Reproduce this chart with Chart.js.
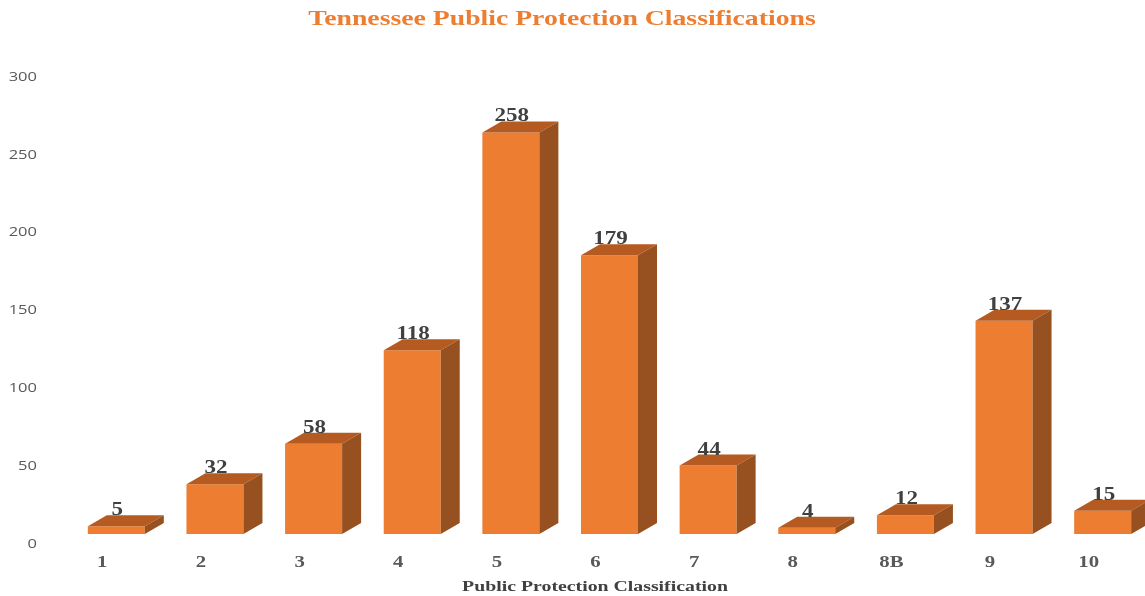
<!DOCTYPE html>
<html>
<head>
<meta charset="utf-8">
<script src="https://cdn.jsdelivr.net/npm/chart.js@4/dist/chart.umd.min.js"></script>
<style>
html,body{margin:0;padding:0;background:#fff;overflow:hidden;}
#wrap{width:1160px;height:596px;position:relative;}
</style>
</head>
<body>
<div id="wrap"><canvas id="c"></canvas></div>
<script>
const categories = ["1","2","3","4","5","6","7","8","8B","9","10"];
const counts = [5,32,58,118,258,179,44,4,12,137,15];
const yTicks = [0,50,100,150,200,250,300];
const chartTitle = "Tennessee Public Protection Classifications";
const xAxisTitle = "Public Protection Classification";

const DX = 19, DY = 11;
const SERIF = '"Liberation Serif", "Times New Roman", serif';

function wideText(ctx, text, x, y, sx, align) {
  ctx.save();
  ctx.translate(x, y);
  ctx.scale(sx, 1);
  ctx.textAlign = align;
  ctx.fillText(text, 0, 0);
  ctx.restore();
}

const threeD = {
  id: 'threeD',
  afterDatasetsDraw(chart) {
    const ctx = chart.ctx;
    const meta = chart.getDatasetMeta(0);
    ctx.save();
    meta.data.forEach((bar, i) => {
      const w = bar.width, L = bar.x - w/2, R = bar.x + w/2, T = bar.y, B = bar.base;
      ctx.fillStyle = '#B55B22';
      ctx.beginPath();
      ctx.moveTo(L, T); ctx.lineTo(R, T); ctx.lineTo(R+DX, T-DY); ctx.lineTo(L+DX, T-DY); ctx.closePath();
      ctx.fill();
      ctx.fillStyle = '#97501F';
      ctx.beginPath();
      ctx.moveTo(R, T); ctx.lineTo(R+DX, T-DY); ctx.lineTo(R+DX, B-DY); ctx.lineTo(R, B); ctx.closePath();
      ctx.fill();
    });
    // value labels
    ctx.fillStyle = '#404040';
    ctx.font = 'bold 18px ' + SERIF;
    ctx.textBaseline = 'alphabetic';
    meta.data.forEach((bar, i) => {
      wideText(ctx, String(counts[i]), bar.x + 1, bar.y - 11, 1.28, 'center');
    });
    // x tick labels
    const xs = chart.scales.x;
    ctx.fillStyle = '#595959';
    ctx.font = 'bold 16px ' + SERIF;
    ctx.textBaseline = 'middle';
    categories.forEach((c, i) => {
      wideText(ctx, c, xs.getPixelForValue(i) - 14, 563, 1.3, 'center');
    });
    // y tick labels
    const ys = chart.scales.y;
    ctx.fillStyle = '#595959';
    ctx.font = '13px "Open Sans", sans-serif';
    yTicks.forEach((v) => {
      wideText(ctx, String(v), 37, ys.getPixelForValue(v) + 10, 1.27, 'right');
    });
    // chart title
    ctx.fillStyle = '#ED7D31';
    ctx.font = 'bold 21px ' + SERIF;
    ctx.textBaseline = 'alphabetic';
    wideText(ctx, chartTitle, 562, 25, 1.32, 'center');
    // x axis title
    ctx.fillStyle = '#404040';
    ctx.font = 'bold 15px ' + SERIF;
    wideText(ctx, xAxisTitle, 595, 591, 1.32, 'center');
    ctx.restore();
  }
};

new Chart(document.getElementById('c'), {
  type: 'bar',
  data: {
    labels: categories,
    datasets: [{
      data: counts,
      backgroundColor: '#ED7D31',
      borderWidth: 0,
      categoryPercentage: 1,
      barPercentage: 0.578
    }]
  },
  options: {
    responsive: true,
    maintainAspectRatio: false,
    animation: false,
    layout: { padding: { top: 67, right: 8, left: 0, bottom: 0 } },
    plugins: { legend: { display: false }, tooltip: { enabled: false }, title: { display: false } },
    scales: {
      x: {
        grid: { display: false, drawTicks: false },
        border: { display: false },
        ticks: { display: false },
        afterFit(s) { s.height = 62; }
      },
      y: {
        min: 0, max: 300,
        afterBuildTicks(s) { s.ticks = yTicks.map(v => ({ value: v })); },
        grid: { display: false, drawTicks: false },
        border: { display: false },
        ticks: { display: false },
        afterFit(s) { s.width = 67; }
      }
    }
  },
  plugins: [threeD]
});
</script>
</body>
</html>
